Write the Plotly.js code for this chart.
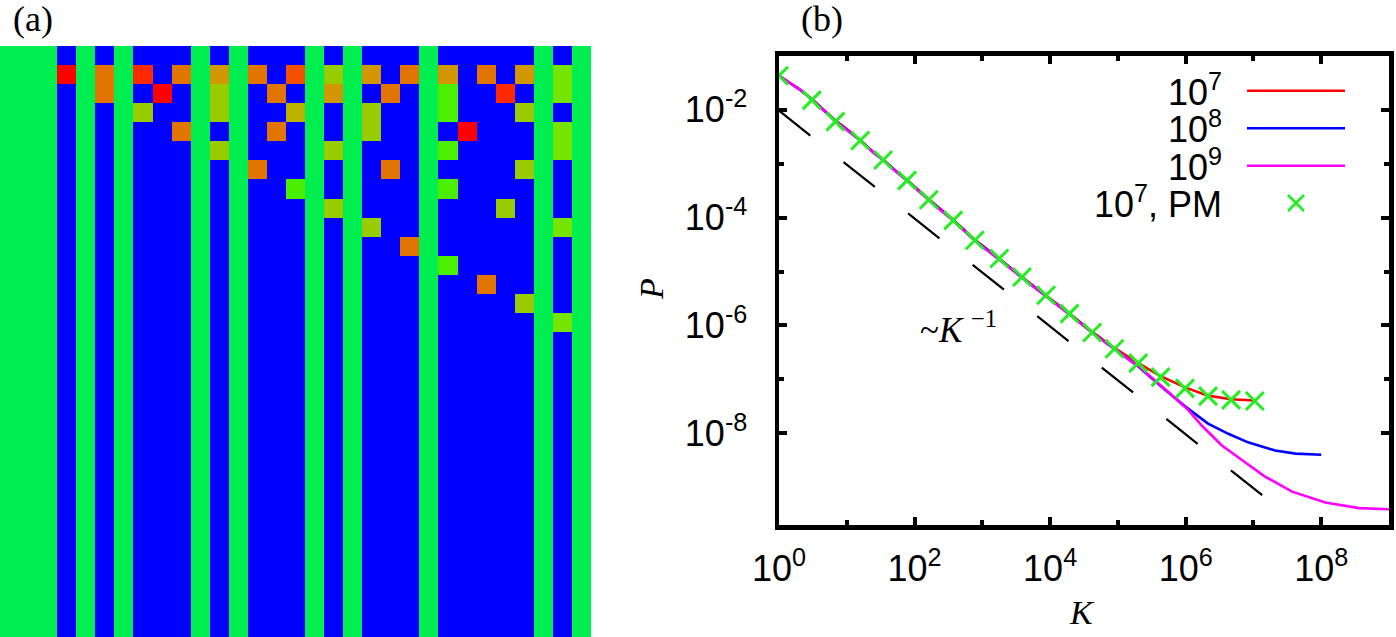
<!DOCTYPE html>
<html>
<head>
<meta charset="utf-8">
<script src="https://cdn.plot.ly/plotly-3.0.1.min.js"></script>
<style>
html,body{margin:0;padding:0;background:#ffffff;}
#chart{width:1396px;height:637px;}
</style>
</head>
<body>
<div id="chart"></div>
<script>
// ---------- Panel (a): grid ----------
const gridSize = 31;
const stripeColumns = [0, 1, 2, 4, 6, 10, 12, 16, 18, 22, 28, 30];
const cellRows   = [1,1,1,1,1,1,1,1,1,1,1,1,1,1, 2,2,2,2,2,2,2,2,2, 3,3,3,3,3,3, 4,4,4,4,4, 5,5,5,5, 6,6,6, 7,7, 8,8, 9,9, 10, 11, 12, 13, 14];
const cellCols   = [3,5,7,9,11,13,15,17,19,21,23,25,27,29, 5,8,11,14,17,20,23,26,29, 7,11,15,19,23,27, 9,14,19,24,29, 11,17,23,29, 13,20,27, 15,23, 17,26, 19,29, 21, 23, 25, 27, 29];
const cellLevels = [10,7,9,7,6,7,8,4,6,7,6,7,6,3, 7,10,4,7,6,7,2,9,3, 4,4,5,4,2,4, 7,7,4,10,3, 4,4,2,3, 7,7,4, 2,2, 4,4, 4,3, 7, 2, 7, 4, 3];
const levelColors = ['#0000ff', '#00ee50', '#4cee00', '#77e300', '#99cc00', '#bbb000',
                     '#d29600', '#e27400', '#f55000', '#ff2a00', '#ff0000'];

// ---------- Panel (b): P(K) ----------
const kRed = [1, 2, 3.05, 4, 6.8, 10, 15.8, 25, 34.4, 50, 77.6, 162, 372, 776, 1778, 3846, 8710, 19320, 41690, 89130, 199500, 426600, 977200, 2140000, 4680000, 10000000];
const pRed = [0.0427, 0.024, 0.0158, 0.0117, 0.0063, 0.0044, 0.00275, 0.00162, 0.0012, 0.00078, 0.0005, 0.000219, 0.0000912, 0.0000389, 0.0000174, 0.0000079, 0.00000363, 0.00000166, 0.00000076, 0.00000038, 0.0000002, 0.000000115, 0.000000071, 0.00000005, 0.0000000427, 0.0000000407];

const kBlue = [1, 2, 3.05, 4, 6.8, 10, 15.8, 25, 34.4, 50, 77.6, 162, 372, 776, 1778, 3846, 8710, 19320, 41690, 89130, 199500, 436500, 977200, 2138000, 4266000, 8318000, 20890000, 41690000, 100000000];
const pBlue = [0.0427, 0.024, 0.0157, 0.0115, 0.0062, 0.0043, 0.0027, 0.0016, 0.00118, 0.00077, 0.00049, 0.000214, 0.0000891, 0.0000380, 0.0000170, 0.0000077, 0.00000355, 0.00000162, 0.00000074, 0.00000036, 0.000000174, 0.000000074, 0.0000000316, 0.0000000151, 0.0000000098, 0.0000000068, 0.0000000048, 0.0000000042, 0.000000004];

const kMag = [1, 2, 3.05, 4, 6.8, 10, 15.8, 25, 34.4, 50, 77.6, 162, 372, 776, 1778, 3846, 8710, 19320, 41690, 89130, 223900, 549500, 1096000, 1738000, 3388000, 6761000, 14790000, 37150000, 114800000, 363100000, 1000000000];
const pMag = [0.0427, 0.024, 0.0156, 0.0114, 0.0061, 0.0042, 0.0027, 0.00158, 0.00116, 0.00076, 0.00048, 0.00021, 0.0000871, 0.0000372, 0.0000166, 0.0000076, 0.0000035, 0.0000016, 0.00000073, 0.00000036, 0.000000158, 0.000000059, 0.0000000269, 0.0000000138, 0.0000000060, 0.0000000032, 0.00000000158, 0.00000000083, 0.00000000052, 0.00000000041, 0.00000000039];

const kPM = [1, 3.05, 6.8, 15.8, 34.4, 77.6, 162, 372, 776, 1778, 3846, 8710, 19320, 41690, 89130, 199500, 426600, 977200, 2140000, 4680000, 10470000];
const pPM = [0.0427, 0.0151, 0.00603, 0.00269, 0.00117, 0.00049, 0.000214, 0.000089, 0.000038, 0.0000174, 0.0000079, 0.00000363, 0.00000166, 0.00000074, 0.00000037, 0.0000002, 0.00000011, 0.000000068, 0.000000049, 0.0000000417, 0.0000000398];

const kGuide = [1, 13500000];
const pGuide = [0.0096, 0.00000000071];

const seriesNames = ['10<sup>7</sup>', '10<sup>8</sup>', '10<sup>9</sup>', '10<sup>7</sup>, PM'];
const seriesColors = ['#ff0000', '#0000ff', '#ff00ff', '#22ee22'];

const xTickVals = [1, 100, 10000, 1000000, 100000000];
const xTickText = ['10<sup>0</sup>', '10<sup>2</sup>', '10<sup>4</sup>', '10<sup>6</sup>', '10<sup>8</sup>'];
const xMinorVals = [10, 1000, 100000, 10000000];
const yTickVals = [0.01, 0.0001, 0.000001, 0.00000001];
const yTickText = ['10<sup>-2</sup>', '10<sup>-4</sup>', '10<sup>-6</sup>', '10<sup>-8</sup>'];
const yMinorVals = [0.001, 0.00001, 0.0000001];

// ---------- build grid matrix ----------
const z = [];
for (let r = 0; r < gridSize; r++) {
  const row = [];
  for (let c = 0; c < gridSize; c++) row.push(stripeColumns.includes(c) ? 1 : 0);
  z.push(row);
}
cellRows.forEach((r, i) => { z[r][cellCols[i]] = cellLevels[i]; });
const nLev = levelColors.length;
const colorscale = [];
levelColors.forEach((col, i) => {
  colorscale.push([i / nLev, col]);
  colorscale.push([(i + 1) / nLev, col]);
});

const W = 1396, H = 637;
const px = x => x / W;
const py = y => 1 - y / H;

const traces = [
  {
    type: 'heatmap', z: z, xaxis: 'x', yaxis: 'y',
    colorscale: colorscale, zmin: -0.5, zmax: nLev - 0.5,
    showscale: false, hoverinfo: 'skip'
  },
  {
    type: 'scatter', mode: 'lines', x: kGuide, y: pGuide, xaxis: 'x2', yaxis: 'y2',
    line: {color: '#000000', width: 2.2, dash: '40px,42.5px'}, showlegend: false, hoverinfo: 'skip'
  },
  {
    type: 'scatter', mode: 'lines', x: kRed, y: pRed, xaxis: 'x2', yaxis: 'y2', name: seriesNames[0],
    line: {color: seriesColors[0], width: 2.6}, showlegend: false
  },
  {
    type: 'scatter', mode: 'lines', x: kBlue, y: pBlue, xaxis: 'x2', yaxis: 'y2', name: seriesNames[1],
    line: {color: seriesColors[1], width: 2.6}, showlegend: false
  },
  {
    type: 'scatter', mode: 'lines', x: kMag, y: pMag, xaxis: 'x2', yaxis: 'y2', name: seriesNames[2],
    line: {color: seriesColors[2], width: 2.6}, showlegend: false
  },
  {
    type: 'scatter', mode: 'markers', x: kPM, y: pPM, xaxis: 'x2', yaxis: 'y2', name: seriesNames[3],
    marker: {symbol: 'x-thin-open', size: 18, color: seriesColors[3], line: {color: seriesColors[3], width: 3}},
    showlegend: false
  }
];

const tickFont = {family: 'Liberation Sans, Arial, sans-serif', size: 36, color: '#000000'};
const serif = 'Liberation Serif, Times New Roman, serif';

const annotations = [
  {xref: 'paper', yref: 'paper', x: px(33), y: py(19), text: '(a)', showarrow: false,
   xanchor: 'center', yanchor: 'middle', font: {family: serif, size: 36, color: '#000'}},
  {xref: 'paper', yref: 'paper', x: px(822), y: py(19), text: '(b)', showarrow: false,
   xanchor: 'center', yanchor: 'middle', font: {family: serif, size: 36, color: '#000'}},
  {xref: 'paper', yref: 'paper', x: px(651), y: py(289), text: '<i>P</i>', showarrow: false, textangle: -90,
   xanchor: 'center', yanchor: 'middle', font: {family: serif, size: 34, color: '#000'}},
  {xref: 'paper', yref: 'paper', x: px(1082), y: py(612), text: '<i>K</i>', showarrow: false,
   xanchor: 'center', yanchor: 'middle', font: {family: serif, size: 34, color: '#000'}},
  {xref: 'paper', yref: 'paper', x: px(958), y: py(327), text: '~<i>K</i> <sup>\u22121</sup>', showarrow: false,
   xanchor: 'center', yanchor: 'middle', font: {family: serif, size: 35, color: '#000'}}
];
const legendY = [90.7, 128.3, 165.7, 203];
const shapes = [];
seriesNames.forEach((nm, i) => {
  annotations.push({xref: 'paper', yref: 'paper', x: px(1224), y: py(legendY[i] - 1), text: nm, showarrow: false,
    xanchor: 'right', yanchor: 'middle', font: tickFont});
  if (i < 3) {
    shapes.push({type: 'line', xref: 'paper', yref: 'paper', x0: px(1247), x1: px(1345),
      y0: py(legendY[i]), y1: py(legendY[i]), line: {color: seriesColors[i], width: 2.6}});
  } else {
    shapes.push({type: 'path', xref: 'paper', yref: 'paper', xsizemode: 'pixel', ysizemode: 'pixel',
      xanchor: px(1296), yanchor: py(legendY[i]), path: 'M-8,-8L8,8M-8,8L8,-8',
      line: {color: seriesColors[i], width: 2.8}});
  }
});

const axisCommon = {
  showline: true, linewidth: 4.5, linecolor: '#000000', mirror: 'allticks',
  ticks: 'inside', ticklen: 8, tickwidth: 4, tickcolor: '#000000',
  tickmode: 'array', showgrid: false, zeroline: false, automargin: false,
  tickfont: tickFont, fixedrange: true
};

const layout = {
  width: W, height: H,
  margin: {l: 0, r: 0, t: 0, b: 0, pad: 0},
  paper_bgcolor: '#ffffff', plot_bgcolor: '#ffffff',
  showlegend: false,
  xaxis: {domain: [0, 591 / W], range: [-0.5, gridSize - 0.5], visible: false, fixedrange: true},
  yaxis: {domain: [0, 591 / H], range: [gridSize - 0.5, -0.5], visible: false, fixedrange: true},
  xaxis2: Object.assign({}, axisCommon, {
    type: 'log', domain: [px(779), px(1389)], range: [0, 9], anchor: 'y2',
    tickvals: xTickVals, ticktext: xTickText, ticklabelstandoff: 8,
    minor: {tickmode: 'array', tickvals: xMinorVals, ticks: 'inside', ticklen: 5, tickwidth: 4, tickcolor: '#000000', showgrid: false}
  }),
  yaxis2: Object.assign({}, axisCommon, {
    type: 'log', domain: [py(525), py(55.8)], range: [-9.7, -1], anchor: 'x2',
    tickvals: yTickVals, ticktext: yTickText, ticklabelstandoff: 20,
    minor: {tickmode: 'array', tickvals: yMinorVals, ticks: 'inside', ticklen: 5, tickwidth: 4, tickcolor: '#000000', showgrid: false}
  }),
  annotations: annotations,
  shapes: shapes
};

Plotly.newPlot('chart', traces, layout, {staticPlot: true, displayModeBar: false});
</script>
</body>
</html>
